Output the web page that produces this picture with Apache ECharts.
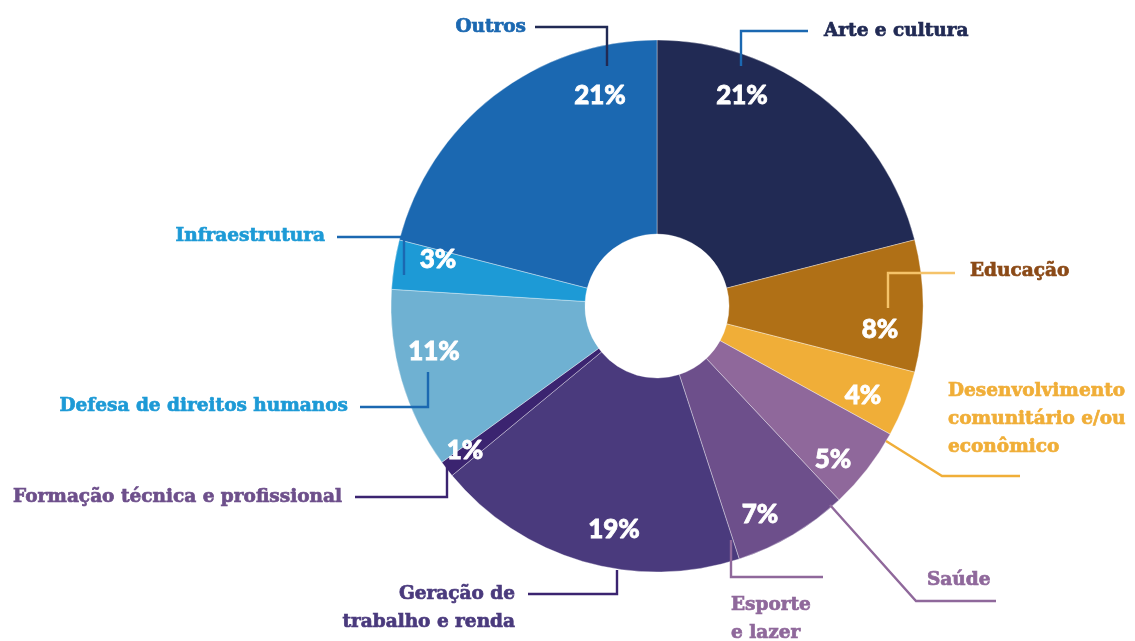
<!DOCTYPE html>
<html>
<head>
<meta charset="utf-8">
<script src="https://cdn.jsdelivr.net/npm/echarts@6/dist/echarts.min.js"></script>
<style>
  html, body { margin: 0; padding: 0; background: #fff; }
  #chart { width: 1135px; height: 641px; }
</style>
</head>
<body>
<div id="chart"></div>
<script>
// dados
const categories = [
  'Arte e cultura', 'Educação', 'Desenvolvimento comunitário e/ou econômico',
  'Saúde', 'Esporte e lazer', 'Geração de trabalho e renda',
  'Formação técnica e profissional', 'Defesa de direitos humanos',
  'Infraestrutura', 'Outros'
]
const labelTexts = [
  'Arte e cultura', 'Educação', 'Desenvolvimento\ncomunitário e/ou\neconômico',
  'Saúde', 'Esporte\ne lazer', 'Geração de\ntrabalho e renda',
  'Formação técnica e profissional', 'Defesa de direitos humanos',
  'Infraestrutura', 'Outros'
]
const values = [21, 8, 4, 5, 7, 19, 1, 11, 3, 21]

// estilos
const sliceColors = ['#212a54', '#b07016', '#f0ae38', '#8f689b', '#6d4f8b', '#4a3a7d', '#3b2470', '#6fb1d2', '#1d9ad6', '#1b68b1']
const textColors = ['#212a54', '#8b4a17', '#f0ae38', '#8f689b', '#8f689b', '#4a3a7d', '#6d4f8b', '#1d9ad6', '#1d9ad6', '#1b68b1']
const lineColors = ['#1b68b1', '#f5c36a', '#f0ae38', '#8f689b', '#8f689b', '#3b2470', '#3b2470', '#1b68b1', '#1b68b1', '#212a54']

// posições dos rótulos (x, y, align)
const namePos = [
  [824, 31, 'left'], [970, 271, 'left'], [948, 419, 'left'], [927, 580, 'left'],
  [731, 619, 'left'], [515, 608, 'right'], [342, 497, 'right'], [348, 406, 'right'],
  [325, 236, 'right'], [526, 27, 'right']
]
const linePts = [
  [[741, 66], [741, 31], [808, 31]],
  [[888, 308], [888, 273], [955, 273]],
  [[886, 441], [942, 476], [1020, 476]],
  [[830, 505], [916, 601], [996, 601]],
  [[731, 540], [731, 577], [823, 577]],
  [[617, 570], [617, 594], [528, 594]],
  [[447, 466], [447, 497], [355, 497]],
  [[428, 372], [428, 407], [360, 407]],
  [[404, 275], [404, 237], [337, 237]],
  [[607, 66], [607, 27], [535, 27]]
]
const pctPos = [
  [742, 96], [880, 330], [863, 396], [833, 460], [760, 515],
  [614, 530], [465, 451], [434, 352], [438, 260], [600, 96]
]

const chart = echarts.init(document.getElementById('chart'))

const pieBase = {
  type: 'pie',
  center: [657, 306],
  radius: [72, 266],
  startAngle: 90,
  clockwise: true,
  silent: true,
  animation: false
}

chart.setOption({
  backgroundColor: '#fff',
  series: [
    {
      ...pieBase,
      name: 'fatias',
      itemStyle: { borderColor: 'rgba(255,255,255,0.6)', borderWidth: 0.6 },
      label: {
        show: true,
        position: 'inside',
        formatter: '{c}%',
        color: '#fff',
        fontFamily: 'Lato',
        fontWeight: 900,
        fontSize: 26,
        textBorderColor: '#fff',
        textBorderWidth: 0.8
      },
      labelLine: { show: false },
      labelLayout: p => ({ x: pctPos[p.dataIndex][0], y: pctPos[p.dataIndex][1], align: 'center', verticalAlign: 'middle' }),
      data: categories.map((c, i) => ({ name: c, value: values[i], itemStyle: { color: sliceColors[i] } }))
    },
    {
      ...pieBase,
      name: 'rotulos',
      z: 3,
      itemStyle: { color: 'rgba(0,0,0,0)' },
      label: {
        show: true,
        position: 'outside',
        overflow: 'none',
        width: 400,
        fontFamily: 'DejaVu Serif',
        fontWeight: 'bold',
        fontSize: 18.5,
        lineHeight: 28
      },
      labelLine: { show: true, smooth: false, lineStyle: { width: 2.4 } },
      labelLayout: p => ({
        x: namePos[p.dataIndex][0],
        y: namePos[p.dataIndex][1],
        align: namePos[p.dataIndex][2],
        verticalAlign: 'middle',
        labelLinePoints: linePts[p.dataIndex]
      }),
      data: categories.map((c, i) => ({
        name: c,
        value: values[i],
        label: { formatter: labelTexts[i], color: textColors[i], textBorderColor: textColors[i], textBorderWidth: 0.7 },
        labelLine: { lineStyle: { color: lineColors[i] } }
      }))
    }
  ]
})
</script>
</body>
</html>
